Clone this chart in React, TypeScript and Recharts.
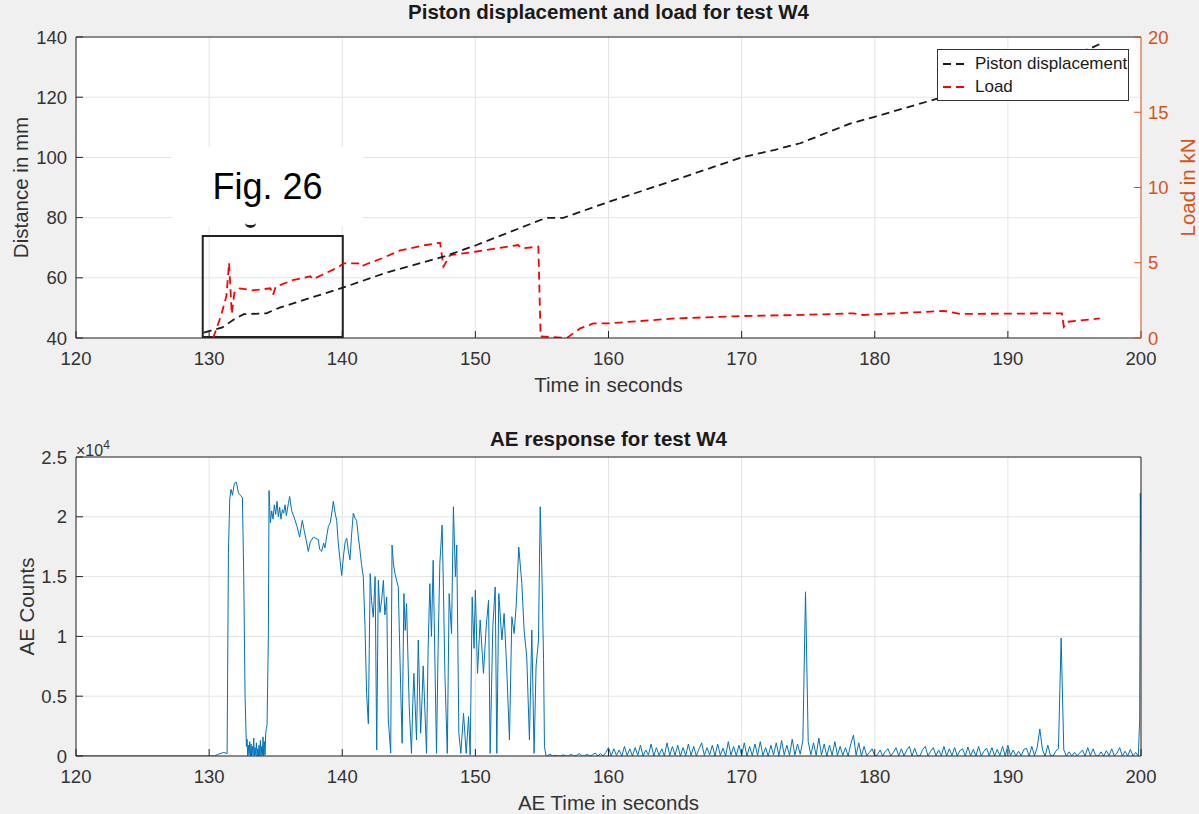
import { LineChart, Line, XAxis, YAxis, CartesianGrid, ReferenceArea } from "recharts";

const FONT = "'Liberation Sans', Arial, Helvetica, sans-serif";
const AXIS = "#262626";
const TEXT = "#333333";
const GRID = "#e4e4e4";
const ORANGE = "#D95319";
const BLUE = "#0072BD";

const X_TICKS = [120, 130, 140, 150, 160, 170, 180, 190, 200];
const DIST_TICKS = [40, 60, 80, 100, 120, 140];
const LOAD_TICKS = [0, 5, 10, 15, 20];
const AE_TICKS = [0, 5000, 10000, 15000, 20000, 25000];

// piston displacement (mm)
const pistonTime = [129.6, 131.0, 131.8, 132.6, 134.3, 135.3, 140.1, 143.3, 147.6, 150.1, 155.3, 156.6, 160.0, 165.0, 170.0, 172.5, 174.4, 178.2, 180.0, 184.7, 190.0, 196.2, 197.1];
const pistonMm = [41.8, 43.5, 46.0, 47.9, 48.2, 50.1, 56.8, 61.7, 67.0, 70.9, 79.9, 79.9, 85.2, 92.5, 100.0, 102.5, 104.7, 111.3, 113.5, 119.5, 127.5, 136.2, 138.1];

// load (kN)
const loadTime = [130.3, 130.9, 131.3, 131.5, 131.7, 131.9, 132.3, 133.3, 134.6, 134.8, 135.0, 136.3, 137.6, 137.8, 138.5, 139.7, 140.1, 141.2, 141.4, 141.8, 143.0, 144.3, 146.3, 147.35, 147.6, 148.1, 150.0, 153.2, 153.5, 154.73, 154.9, 156.87, 157.87, 158.87, 160.0, 165.0, 170.0, 174.4, 178.4, 179.1, 185.2, 186.4, 194.06, 194.2, 194.5, 196.9];
const loadKn = [0, 1.5, 2.8, 5.0, 1.6, 3.0, 3.3, 3.17, 3.3, 2.86, 3.4, 3.85, 4.1, 3.9, 4.2, 4.7, 4.96, 4.96, 4.75, 4.9, 5.3, 5.8, 6.18, 6.33, 4.74, 5.5, 5.73, 6.18, 5.96, 6.07, 0.1, 0, 0.64, 0.97, 0.97, 1.3, 1.46, 1.53, 1.64, 1.53, 1.8, 1.6, 1.64, 0.75, 1.08, 1.3];

// AE counts, active part of the test
const aeTime = [120, 130.4, 130.7, 131.1, 131.35, 131.45, 131.55, 131.65, 131.75, 131.9, 132.05, 132.2, 132.35, 132.5, 132.6, 132.7, 132.8,
  132.85, 132.9, 132.95, 133.0, 133.05, 133.1, 133.15, 133.2, 133.25, 133.3, 133.35, 133.4, 133.45, 133.5, 133.55, 133.6, 133.65, 133.7, 133.75, 133.8, 133.85, 133.9, 133.95, 134.0, 134.05, 134.1, 134.15, 134.2, 134.25, 134.3,
  134.35, 134.45, 134.5, 134.6, 134.7, 134.8, 134.9, 135.0, 135.1, 135.2, 135.3, 135.4, 135.5, 135.6, 135.7, 135.8, 135.95, 136.05, 136.2, 136.4, 136.6, 136.8, 136.9, 137.0, 137.15, 137.3, 137.45, 137.6, 137.83, 138.0, 138.2, 138.3, 138.45, 138.6, 138.7, 138.85, 138.96, 139.1, 139.25, 139.33, 139.45, 139.58, 139.7, 139.85, 139.96,
  140.1, 140.22, 140.34, 140.45, 140.58, 140.7, 140.83, 140.95, 141.08, 141.2, 141.33, 141.45, 141.58, 141.71, 141.83, 141.96, 142.03, 142.1, 142.2, 142.33, 142.47, 142.59, 142.71, 142.83, 142.96, 143.09, 143.2, 143.34, 143.46, 143.64, 143.74, 143.85, 143.96, 144.1, 144.21, 144.38, 144.5, 144.63, 144.73, 144.83, 145.03, 145.2, 145.3, 145.38, 145.58, 145.71, 145.89, 146.0, 146.08, 146.33, 146.45, 146.58, 146.7, 146.83, 147.08, 147.2, 147.33, 147.5, 147.6, 147.71, 147.89,
  148.03, 148.21, 148.35, 148.5, 148.6, 148.76, 148.91, 149.11, 149.31, 149.49, 149.61, 149.76, 149.9, 150.0, 150.16, 150.36, 150.61, 150.81, 150.99, 151.11, 151.31, 151.49, 151.61, 151.76, 151.99, 152.16, 152.36, 152.56, 152.74, 152.91, 153.06, 153.26, 153.49, 153.66, 153.86, 154.06, 154.24, 154.41, 154.56, 154.74, 154.87, 154.99, 155.12, 155.19, 155.3];
const aeCounts = [0, 0, 150, 300, 200, 17000, 21500, 22300, 21800, 22800, 22900, 22000, 21800, 21600, 15000, 5000, 800,
  1400, 0, 900, 100, 1200, 0, 1000, 0, 800, 100, 1500, 0, 700, 100, 1100, 0, 600, 0, 900, 50, 1300, 0, 800, 100, 1600, 0, 1200, 100, 1900, 2300,
  2600, 10000, 22200, 19500, 20500, 19800, 21000, 20200, 21300, 20000, 20800, 19800, 20600, 20300, 21000, 20100, 21100, 21700, 20500, 19900, 19200, 18300, 19000, 19700, 18800, 18000, 17100, 17900, 18300, 18200, 18100, 17300, 17100, 17800, 17400, 18500, 19200, 19500, 20600, 21300, 20400, 19700, 17800, 16200, 15100,
  16800, 17900, 18200, 17200, 16400, 18500, 20300, 19900, 19700, 18400, 17200, 16000, 15000, 10800, 5200, 2700, 9000, 15250, 13000, 11600, 15000, 500, 14690, 12000, 13020, 14690, 11800, 13300, 3010, 250, 17640, 16000, 15250, 14600, 14130, 6080, 1060, 13580, 10500, 12740, 4130, 220, 4500, 6910, 1340, 9700, 1900, 5000, 7530, 220, 9000, 14410, 10000, 16360, 220, 9000, 16100, 19310, 14000, 6900, 220,
  13580, 10240, 20840, 15000, 17640, 1900, 220, 3570, 220, 3290, 80, 13300, 9000, 13860, 6910, 11370, 6910, 10800, 13020, 220, 10800, 14130, 220, 13580, 9700, 11920, 7190, 1340, 11640, 10240, 12470, 17470, 14410, 10520, 8290, 1340, 10520, 220, 7530, 9700, 20840, 15800, 8080, 780, 80];

// AE counts after failure, sampled every 0.2 s from 155.4 s
const aeNoiseStart = 155.4;
const aeNoiseStep = 0.2;
const aeNoise = [
  0, 150, 0, 50, 0, 0, 100, 0, 0, 150, 0, 50, 200, 0, 0, 150, 0, 100, 250, 0, 200, 0, 300,
  700, 20, 600, 50, 500, 0, 800, 40, 600, 0, 700, 60, 900, 0, 500, 80, 1000, 0, 700, 50, 600, 0, 1100, 40, 800,
  60, 900, 0, 700, 30, 1000, 50, 800, 0, 600, 1100, 40, 700, 80, 900, 0, 1000, 50, 650, 0, 1200, 60, 800, 20, 900,
  50, 1100, 0, 800, 30, 1000, 60, 1200, 40, 700, 0, 900, 80, 1100, 30, 1300, 100, 900, 60, 1400, 80, 1000, 150, 1300,
  13730,
  1200, 100, 1100, 50, 1500, 80, 1000, 0, 900, 60, 1200, 40, 800, 50, 700, 0, 1000,
  1750,
  60, 1100, 0, 800, 20, 300, 600,
  0, 100, 500, 0, 400, 600, 0, 300, 700, 20, 600, 0, 500, 800, 0, 650, 30, 0, 550, 800, 0, 400, 700, 20, 500,
  30, 800, 0, 600, 40, 700, 0, 450, 600, 0, 750, 30, 550, 0, 800, 0, 400, 650, 20, 700, 0, 550, 40, 800, 0,
  900, 30, 500, 0, 400, 20, 550, 650, 0, 800, 30, 700,
  2260,
  500, 0, 900, 30, 0, 400, 650,
  9860,
  500, 0, 350, 0, 300, 20, 250, 500, 0, 700, 20, 600, 30, 0, 350, 0, 450, 20, 600, 0, 250, 700, 0, 400, 0, 550, 20, 300, 0,
];
const aeEndTime = [199.9, 199.95, 200];
const aeEndCounts = [3000, 21980, 17000];

const pistonData = pistonTime.map((t, i) => ({ t, v: pistonMm[i] }));
const loadData = loadTime.map((t, i) => ({ t, v: loadKn[i] }));
const aeData = [
  ...aeTime.map((t, i) => ({ t, v: aeCounts[i] })),
  ...aeNoise.map((v, i) => ({ t: +(aeNoiseStart + i * aeNoiseStep).toFixed(2), v })),
  ...aeEndTime.map((t, i) => ({ t, v: aeEndCounts[i] })),
];

const tickStyle = { fill: TEXT, fontSize: 18.5, fontFamily: FONT };
const labelFont = { fontSize: 20.5, fontFamily: FONT };

function Title({ text, top }: { text: string; top: number }) {
  return (
    <div
      style={{
        position: "absolute",
        left: 76,
        width: 1065,
        top,
        textAlign: "center",
        fontWeight: "bold",
        fontSize: 20.5,
        lineHeight: 1,
        color: "#1a1a1a",
        zIndex: 2,
      }}
    >
      {text}
    </div>
  );
}

function LegendBox() {
  const row = (color: string, label: string) => (
    <div style={{ display: "flex", alignItems: "center", height: 23 }}>
      <svg width={30} height={10} style={{ marginLeft: 4 }}>
        <line x1={1} y1={5} x2={27} y2={5} stroke={color} strokeWidth={1.8} strokeDasharray="8 5" />
      </svg>
      <span style={{ marginLeft: 3, fontSize: 17, color: "#1a1a1a" }}>{label}</span>
    </div>
  );
  return (
    <div
      style={{
        position: "absolute",
        left: 937,
        top: 49,
        width: 190,
        height: 48,
        border: "1px solid #333",
        background: "#fff",
        paddingTop: 2,
        boxSizing: "content-box",
        zIndex: 2,
      }}
    >
      {row("#1a1a1a", "Piston displacement")}
      {row("#ff0000", "Load")}
    </div>
  );
}

export default function App() {
  return (
    <div
      style={{
        position: "absolute",
        left: 0,
        top: 0,
        width: 1199,
        height: 814,
        background: "#f0f0f0",
        fontFamily: FONT,
        overflow: "hidden",
      }}
    >
      <div style={{ position: "relative", width: 1199, height: 400 }}>
        <Title text="Piston displacement and load for test W4" top={1.6} />
        <LineChart width={1199} height={400} margin={{ top: 36, right: 8, bottom: 0, left: 16 }}>
          <CartesianGrid xAxisId="b" yAxisId="left" stroke={GRID} fill="#ffffff" fillOpacity={1} />
          <XAxis
            xAxisId="b"
            type="number"
            dataKey="t"
            domain={[120, 200]}
            ticks={X_TICKS}
            interval={0}
            allowDataOverflow
            height={62}
            stroke={AXIS}
            tick={tickStyle}
            tickSize={-7}
            tickMargin={21}
            label={{ value: "Time in seconds", position: "insideBottom", offset: 8, fill: TEXT, ...labelFont }}
          />
          <XAxis
            xAxisId="t"
            orientation="top"
            type="number"
            dataKey="t"
            domain={[120, 200]}
            ticks={X_TICKS}
            interval={0}
            allowDataOverflow
            height={1}
            stroke={AXIS}
            tick={false}
            tickSize={-7}
          />
          <YAxis
            yAxisId="left"
            type="number"
            domain={[40, 140]}
            ticks={DIST_TICKS}
            interval={0}
            allowDataOverflow
            width={60}
            stroke={AXIS}
            tick={tickStyle}
            tickSize={-7}
            tickMargin={16}
            label={{
              value: "Distance in mm",
              angle: -90,
              position: "insideLeft",
              offset: 5,
              fill: TEXT,
              style: { textAnchor: "middle" },
              ...labelFont,
            }}
          />
          <YAxis
            yAxisId="right"
            orientation="right"
            type="number"
            domain={[0, 20]}
            ticks={LOAD_TICKS}
            interval={0}
            allowDataOverflow
            width={50}
            stroke={ORANGE}
            tick={{ ...tickStyle, fill: ORANGE }}
            tickSize={-7}
            tickMargin={14}
            label={{
              value: "Load in kN",
              angle: -90,
              position: "insideRight",
              offset: 3,
              fill: ORANGE,
              style: { textAnchor: "middle" },
              ...labelFont,
            }}
          />
          <ReferenceArea
            xAxisId="b"
            yAxisId="left"
            x1={127.2}
            x2={141.56}
            y1={77.2}
            y2={103.5}
            fill="#ffffff"
            fillOpacity={1}
            stroke="none"
            label={{ value: "Fig. 26", position: "center", fontSize: 36, fill: "#000", fontFamily: FONT }}
          />
          <ReferenceArea
            xAxisId="b"
            yAxisId="left"
            x1={129.52}
            x2={140.04}
            y1={40.3}
            y2={73.9}
            fill="none"
            stroke="#222"
            strokeWidth={2}
          />
          <Line
            xAxisId="b"
            yAxisId="right"
            data={loadData}
            dataKey="v"
            type="linear"
            stroke="#ff0000"
            strokeWidth={1.8}
            strokeDasharray="8 5"
            dot={false}
            isAnimationActive={false}
          />
          <Line
            xAxisId="b"
            yAxisId="left"
            data={pistonData}
            dataKey="v"
            type="linear"
            stroke="#1a1a1a"
            strokeWidth={1.8}
            strokeDasharray="8 5"
            dot={false}
            isAnimationActive={false}
          />
        </LineChart>
        <LegendBox />
        <div
          style={{
            position: "absolute",
            left: 245,
            top: 218,
            width: 11,
            height: 7,
            borderBottom: "3px solid #222",
            borderRadius: "50%",
            zIndex: 2,
          }}
        />
      </div>

      <div style={{ position: "relative", width: 1199, height: 414 }}>
        <Title text="AE response for test W4" top={29.3} />
        <div style={{ position: "absolute", left: 76, top: 40, fontSize: 16, lineHeight: 1, color: TEXT, zIndex: 2 }}>
          ×10<sup style={{ fontSize: 12, position: "relative", top: -1 }}>4</sup>
        </div>
        <LineChart width={1199} height={414} margin={{ top: 56, right: 8, bottom: 0, left: 16 }}>
          <CartesianGrid xAxisId="b" yAxisId="l" stroke={GRID} fill="#ffffff" fillOpacity={1} />
          <XAxis
            xAxisId="b"
            type="number"
            dataKey="t"
            domain={[120, 200]}
            ticks={X_TICKS}
            interval={0}
            allowDataOverflow
            height={58}
            stroke={AXIS}
            tick={tickStyle}
            tickSize={-7}
            tickMargin={21}
            label={{ value: "AE Time in seconds", position: "insideBottom", offset: 4, fill: TEXT, ...labelFont }}
          />
          <XAxis
            xAxisId="t"
            orientation="top"
            type="number"
            dataKey="t"
            domain={[120, 200]}
            ticks={X_TICKS}
            interval={0}
            allowDataOverflow
            height={1}
            stroke={AXIS}
            tick={false}
            tickSize={-7}
          />
          <YAxis
            yAxisId="l"
            type="number"
            domain={[0, 25000]}
            ticks={AE_TICKS}
            interval={0}
            allowDataOverflow
            width={60}
            stroke={AXIS}
            tick={tickStyle}
            tickSize={-7}
            tickMargin={16}
            tickFormatter={(v: number) => String(v / 10000)}
            label={{
              value: "AE Counts",
              angle: -90,
              position: "insideLeft",
              offset: 11,
              fill: TEXT,
              style: { textAnchor: "middle" },
              ...labelFont,
            }}
          />
          <YAxis
            yAxisId="r"
            orientation="right"
            type="number"
            domain={[0, 25000]}
            ticks={AE_TICKS}
            interval={0}
            allowDataOverflow
            width={50}
            stroke={AXIS}
            tick={false}
            tickSize={-7}
          />
          <Line
            xAxisId="b"
            yAxisId="l"
            data={aeData}
            dataKey="v"
            type="linear"
            stroke={BLUE}
            strokeWidth={1}
            dot={false}
            isAnimationActive={false}
          />
        </LineChart>
      </div>
    </div>
  );
}
